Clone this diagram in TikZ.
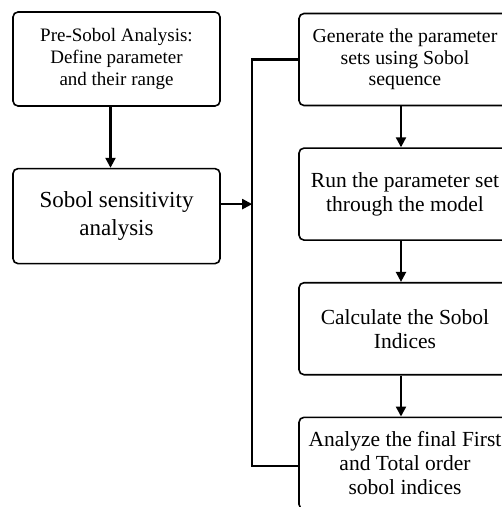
\documentclass[tikz,border=0pt]{standalone}
\usepackage{fontspec}
\setmainfont{Liberation Serif}
\usepackage{tikz}
\usetikzlibrary{arrows.meta,positioning}

\begin{document}
\begin{tikzpicture}[
  x=1pt, y=-1pt,
  node distance=41pt,
  box/.style={draw, line width=1.6pt, rounded corners=5pt, align=center, inner sep=0pt},
  leftbox/.style={box, minimum width=207pt},
  rightbox/.style={box, minimum width=212pt, minimum height=92pt, font=\fontsize{21.5}{24}\selectfont},
  arrow/.style={-{Triangle[length=10pt,width=10pt]}, line width=2.2pt},
  bus/.style={line width=2.2pt}
]
\useasboundingbox (0,0) rectangle (502,507);
\clip (0,0) rectangle (502,507);

% left column
\node[leftbox, minimum height=94pt, font=\fontsize{19}{22}\selectfont] (pre) at (116.5,59)
  {Pre-Sobol Analysis:\\ Define parameter\\ and their range};
\node[leftbox, minimum height=95pt, below=61pt of pre, font=\fontsize{23}{28}\selectfont] (sobol)
  {Sobol sensitivity\\ analysis};
\draw[arrow] ([xshift=-6pt]pre.south) -- ([xshift=-6pt]sobol.north);

% right column
\node[rightbox, font=\fontsize{19.8}{21.5}\selectfont] (gen) at (405,59.5)
  {Generate the parameter\\ sets using Sobol\\ sequence};
\node[rightbox, below=of gen] (run) {Run the parameter set\\ through the model};
\node[rightbox, below=of run] (calc) {Calculate the Sobol\\ Indices};
\node[rightbox, below=of calc] (ana) {Analyze the final First\\ and Total order\\ sobol indices};
\draw[arrow] ([xshift=-4pt]gen.south) -- ([xshift=-4pt]run.north);
\draw[arrow] ([xshift=-4pt]run.south) -- ([xshift=-4pt]calc.north);
\draw[arrow] ([xshift=-4pt]calc.south) -- ([xshift=-4pt]ana.north);

% bus between the columns
\coordinate[left=46pt of gen.west] (bustop);
\draw[bus] (gen.west) -- (bustop) |- ([yshift=-3pt]ana.west);
\coordinate (join) at ([yshift=12pt]sobol.east -| bustop);
\draw[arrow] ([yshift=12pt]sobol.east) -- (join);
\end{tikzpicture}
\end{document}
